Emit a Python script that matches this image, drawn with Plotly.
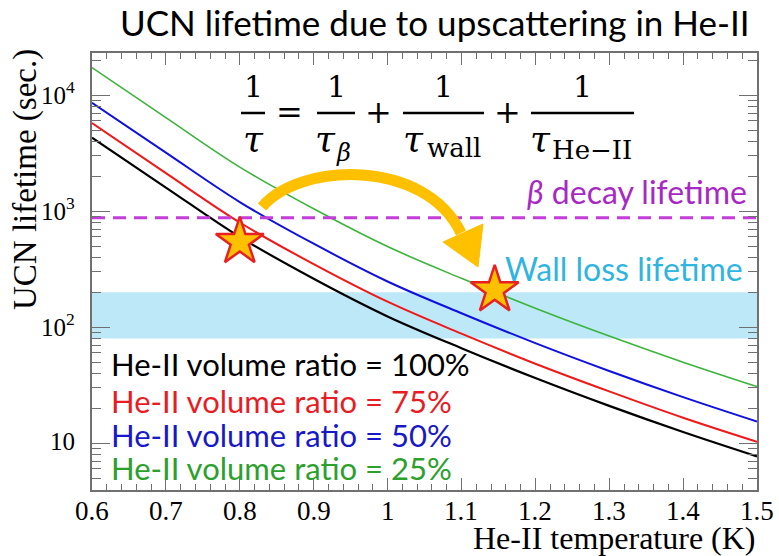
import math
import plotly.graph_objects as go

# ---------------- data ----------------
temperature = [0.6, 0.7, 0.8, 0.9, 1.0, 1.1, 1.2, 1.3, 1.4, 1.5]
tau_100 = [4300, 1600, 600, 262, 124, 66, 36.5, 21, 12.5, 7.7]
tau_75 = [5750, 2130, 800, 350, 166, 88, 48.5, 28, 16.6, 10.3]
tau_50 = [8600, 3200, 1200, 525, 248, 132, 73, 42, 25, 15.4]
tau_25 = [17300, 6400, 2400, 1050, 496, 264, 146, 84, 50, 30.8]
series_labels = ["He-II volume ratio = 100%", "He-II volume ratio = 75%",
                 "He-II volume ratio = 50%", "He-II volume ratio = 25%"]
beta_lifetime = 880
wall_band = [80, 200]
star_x = [0.80, 1.145]
star_y = [545, 209]
x_range = [0.6, 1.5]
x_tick_vals = [0.6, 0.7, 0.8, 0.9, 1.0, 1.1, 1.2, 1.3, 1.4, 1.5]
x_tick_text = ["0.6", "0.7", "0.8", "0.9", "1", "1.1", "1.2", "1.3", "1.4", "1.5"]
y_log_range = [0.597, 4.364]
y_tick_vals = [10, 100, 1000, 10000]
y_tick_text = ["10", "10<sup>2</sup>", "10<sup>3</sup>", "10<sup>4</sup>"]

colors = ["#000000", "#F01818", "#1010E0", "#3CB43C"]
widths = [2.2, 2.0, 2.0, 1.6]
text_colors = ["#000000", "#E81C24", "#1818C8", "#2CA02C"]

# ---------------- figure ----------------
L, R, T, B = 92, 757, 53, 490
W, H = 779, 556


def px(x):
    return (x - L) / (R - L)


def py(y):
    return (B - y) / (B - T)


fig = go.Figure()

# wall-loss band
fig.add_shape(type="rect", xref="paper", yref="y", x0=0, x1=1,
              y0=wall_band[0], y1=wall_band[1],
              fillcolor="#BDE8F7", line_width=0, layer="below")

for ys, c, w in zip([tau_100, tau_75, tau_50, tau_25], colors, widths):
    fig.add_trace(go.Scatter(x=temperature, y=ys, mode="lines",
                             line=dict(color=c, width=w, shape="spline"),
                             showlegend=False, hoverinfo="skip"))

# beta decay lifetime dashed line
fig.add_trace(go.Scatter(x=x_range, y=[beta_lifetime, beta_lifetime], mode="lines",
                         line=dict(color="#C43CDA", width=3, dash="13px,8px"),
                         showlegend=False, hoverinfo="skip"))


def P(x, y):
    return f"{px(x):.5f},{py(y):.5f}"


# orange curved arrow
arc = f"M {P(262,207)} C {P(300,162)} {P(425,158)} {P(461,233)}"
fig.add_shape(type="path", xref="paper", yref="paper", path=arc,
              line=dict(color="#FFC000", width=11), fillcolor="rgba(0,0,0,0)")
head = f"M {P(443,242)} L {P(483,224)} L {P(478,267)} Z"
fig.add_shape(type="path", xref="paper", yref="paper", path=head,
              line=dict(color="#FFC000", width=1), fillcolor="#FFC000")

# stars
fig.add_trace(go.Scatter(x=star_x, y=star_y, mode="markers",
                         marker=dict(symbol="star", size=36, color="#FFC000",
                                     line=dict(color="#E82020", width=2.5)),
                         showlegend=False, hoverinfo="skip"))

ann = []
SANS = "Lato"
SERIF = "Liberation Serif"
MATH = "DejaVu Serif"


def text(t, x, y, size, family, color="#000", xa="center", ya="middle", angle=0):
    ann.append(dict(text=t, x=px(x), y=py(y), xref="paper", yref="paper",
                    showarrow=False, xanchor=xa, yanchor=ya, textangle=angle,
                    font=dict(family=family, size=size, color=color)))


# tick labels drawn as annotations tied to the axes
for v, t in zip(x_tick_vals, x_tick_text):
    ann.append(dict(text=t, x=v, xref="x", y=py(511), yref="paper", showarrow=False,
                    xanchor="center", yanchor="middle",
                    font=dict(family=SERIF, size=27, color="#000")))
for v, t in zip(y_tick_vals, y_tick_text):
    ann.append(dict(text=t, x=px(77), xref="paper", y=math.log10(v), yref="y",
                    showarrow=False, xanchor="right", yanchor="middle", yshift=2,
                    font=dict(family=SERIF, size=25, color="#000")))

# title
text("UCN lifetime due to upscattering in He-II", 435, 22, 35, SANS)
# axis titles
text("He-II temperature (K)", 758, 538, 32, SERIF, xa="right")
text("UCN lifetime (sec.)", 25, 180, 33, SERIF, angle=-90)

# line annotations
text("<i>β</i> decay lifetime", 749, 191, 32, SANS, color="#A828C4", xa="right")
text("Wall loss lifetime", 745, 268, 32, SANS, color="#30B4E0", xa="right")

# series labels
for lbl, c, yy in zip(series_labels, text_colors, [364, 401, 435, 468]):
    text(lbl, 109, yy, 31, SANS, color=c, xa="left")

# equation
for cx in [253, 336, 443, 582]:
    text("1", cx, 87, 30, MATH)
for x0, x1 in [(241, 265), (317, 355), (403, 484), (531, 634)]:
    fig.add_shape(type="line", xref="paper", yref="paper", x0=px(x0), x1=px(x1),
                  y0=py(113), y1=py(113), line=dict(color="#000", width=2.5))
text("<i>τ</i>", 253, 138, 36, MATH)
text("<i>τ</i>", 325, 138, 36, MATH)
text("<i>β</i>", 343, 153, 24, MATH)
text("<i>τ</i>", 413, 138, 36, MATH)
text("wall", 454, 148, 26, MATH)
text("<i>τ</i>", 540, 138, 36, MATH)
text("He−II", 592, 150, 26, MATH)
text("=", 289, 112, 32, MATH)
text("+", 378, 112, 32, MATH)
text("+", 507, 112, 32, MATH)

minor_y = [k * 10 ** d for d in range(0, 5) for k in range(2, 10)]

fig.update_layout(
    width=W, height=H,
    margin=dict(l=L, r=W - R, t=T, b=H - B),
    paper_bgcolor="white", plot_bgcolor="white",
    font=dict(family=SERIF, size=25, color="#000"),
    annotations=ann,
)
fig.update_xaxes(range=x_range, tickmode="array", tickvals=x_tick_vals,
                 showticklabels=False, ticklen=12, tickwidth=1.2,
                 showline=True, linecolor="#707070", linewidth=1.5, mirror="ticks",
                 ticks="inside", tickcolor="#707070", showgrid=False, zeroline=False,
                 minor=dict(dtick=0.02, ticks="inside", ticklen=6, tickcolor="#707070"))
fig.update_yaxes(type="log", range=y_log_range, tickmode="array", tickvals=y_tick_vals,
                 showticklabels=False, ticklen=18, tickwidth=1.2,
                 showline=True, linecolor="#707070", linewidth=1.5, mirror="ticks",
                 ticks="inside", tickcolor="#707070", showgrid=False, zeroline=False,
                 minor=dict(tickvals=minor_y, ticks="inside", ticklen=9, tickcolor="#707070"))

fig.write_html("out.html")
